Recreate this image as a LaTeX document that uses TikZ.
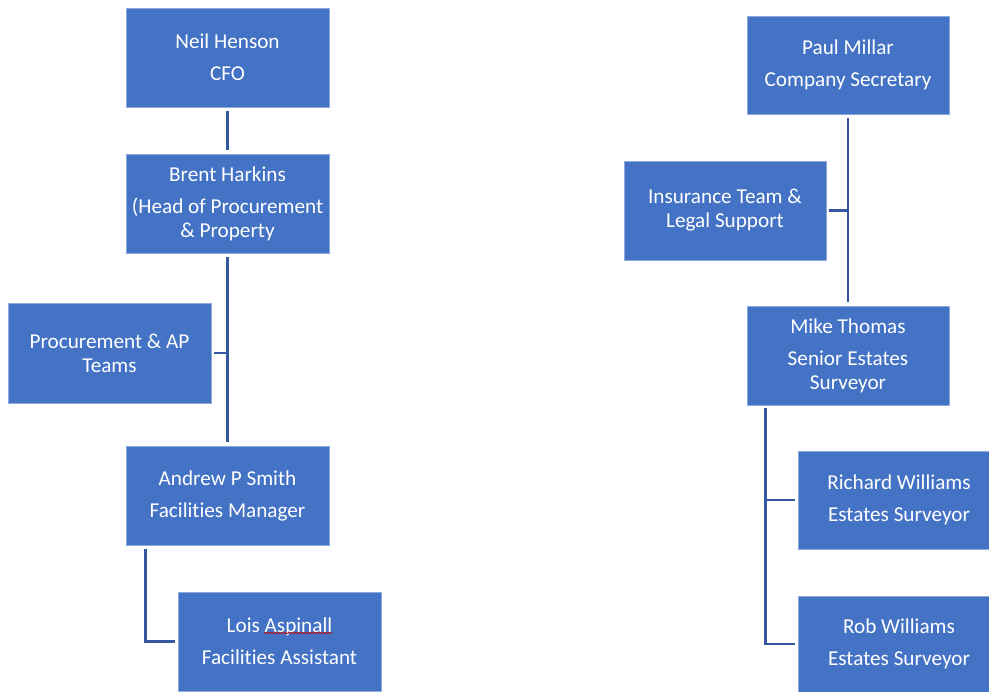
\documentclass[tikz,border=0pt]{standalone}
\usepackage{fontspec}
\setmainfont{Carlito}[Ligatures=NoCommon]
\usetikzlibrary{decorations.pathmorphing}
\definecolor{boxblue}{HTML}{4472C4}
\definecolor{boxedge}{HTML}{8EA9DB}
\definecolor{linkblue}{RGB}{52,88,160}
\tikzset{
  orgbox/.style={rectangle, fill=boxblue, draw=boxedge, line width=0.8pt,
    text=white, align=center, inner sep=0pt,
    font=\fontsize{21.2}{24}\selectfont},
  boxtext/.style={text=white, align=center, inner sep=0pt,
    font=\fontsize{21.2}{24}\selectfont},
  conn/.style={draw=linkblue, line width=2.6pt}
}
\begin{document}
\begin{tikzpicture}[x=1pt,y=-1pt]
\useasboundingbox (0,0) rectangle (989,692);
% left tree
\node[orgbox, minimum width=203pt, minimum height=99pt] (neil) at (227.5,57.5) {Neil Henson\\[8pt]CFO};
\node[orgbox, minimum width=203pt, minimum height=99pt] (brent) at (227.5,203.5) {Brent Harkins\\[8pt](Head of Procurement\\\& Property};
\node[orgbox, minimum width=203pt, minimum height=100pt] (proc) at (109.5,353) {Procurement \& AP\\Teams};
\node[orgbox, minimum width=203pt, minimum height=99pt] (andrew) at (227.5,495.5) {Andrew P Smith\\[8pt]Facilities Manager};
\node[orgbox, minimum width=203pt, minimum height=99pt] (lois) at (279.5,641.5) {Lois Aspinall\\[8pt]Facilities Assistant};
% right tree
\node[orgbox, minimum width=202pt, minimum height=98pt] (paul) at (848,65) {Paul Millar\\[8pt]Company Secretary};
\node[orgbox, minimum width=202pt, minimum height=99pt] (ins) at (725,210.5) {Insurance Team \&\\Legal Support};
\node[orgbox, minimum width=202pt, minimum height=99pt] (mike) at (848,355.5) {Mike Thomas\\[8pt]Senior Estates\\Surveyor};
\node[orgbox, minimum width=191pt, minimum height=98pt] (rich) at (893.5,500) {};
\node[boxtext] (richt) at ([xshift=5.5pt]rich.center) {Richard Williams\\[8pt]Estates Surveyor};
\node[orgbox, minimum width=191pt, minimum height=96pt] (rob) at (893.5,644) {};
\node[boxtext] (robt) at ([xshift=5.5pt]rob.center) {Rob Williams\\[8pt]Estates Surveyor};
% connectors left
\draw[conn] ([yshift=-4pt]neil.south) -- ([yshift=4pt]brent.north);
\draw[conn] ([yshift=-4pt]brent.south) -- ([yshift=4pt]andrew.north);
\draw[conn] ([xshift=3pt]proc.east) -| ([yshift=-4pt]brent.south);
\draw[conn] ([xshift=20pt,yshift=-4pt]andrew.south west) |- ([xshift=-3pt]lois.west);
% connectors right
\draw[conn] ([yshift=-4pt]paul.south) -- ([yshift=4pt]mike.north);
\draw[conn] ([xshift=3pt]ins.east) -| ([yshift=-4pt]paul.south);
\draw[conn] ([xshift=19pt,yshift=-3pt]mike.south west) |- ([xshift=-3pt]rob.west);
\draw[conn] ([xshift=-3pt]rich.west) -| ([xshift=19pt,yshift=-3pt]mike.south west);
% spell-check underline
\draw[red!80!black, line width=0.6pt, decorate, decoration={snake, amplitude=0.8pt, segment length=3pt}] (264,633) -- (332,633);
\end{tikzpicture}
\end{document}
